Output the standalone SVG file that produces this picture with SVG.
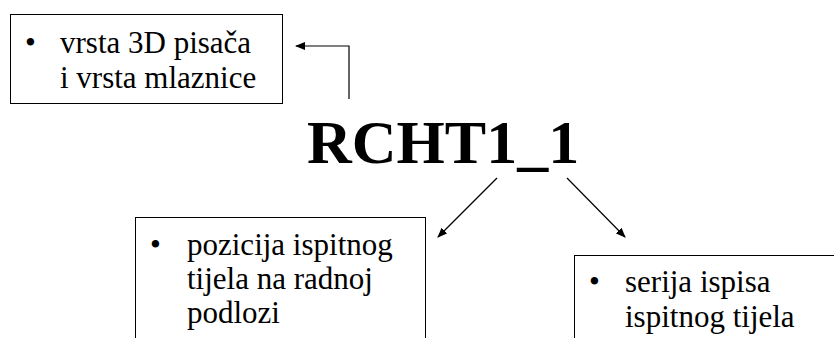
<svg xmlns="http://www.w3.org/2000/svg" width="834" height="338" viewBox="0 0 834 338">
<defs>
<marker id="ah" markerWidth="10" markerHeight="8" refX="9" refY="4" orient="auto" markerUnits="userSpaceOnUse">
<path d="M0,0 L10,4 L0,8 z" fill="#000"/>
</marker>
<style>
.box{fill:#fff;stroke:#000;stroke-width:1}
.t{font-family:"Liberation Serif","Times New Roman",serif;font-size:31px;fill:#000}
.title{font-family:"Liberation Serif","Times New Roman",serif;font-size:62px;font-weight:bold;fill:#000}
.c{fill:none;stroke:#000;stroke-width:1.2}
</style>
</defs>
<rect width="834" height="338" fill="#fff"/>
<g id="box1">
<rect class="box" x="10.5" y="14.5" width="272" height="89"/>
<text class="t" x="25" y="53">•</text>
<text class="t" x="60" y="53">vrsta 3D pisača</text>
<text class="t" x="60" y="88">i vrsta mlaznice</text>
</g>
<g id="title">
<text class="title" x="307" y="163">RCHT1_1</text>
</g>
<g id="box2">
<rect class="box" x="135.5" y="217.5" width="290" height="130"/>
<text class="t" x="150" y="255">•</text>
<text class="t" x="187" y="255">pozicija ispitnog</text>
<text class="t" x="187" y="289">tijela na radnoj</text>
<text class="t" x="187" y="323">podlozi</text>
</g>
<g id="box3">
<rect class="box" x="574.5" y="255.5" width="280" height="100"/>
<text class="t" x="589" y="292">•</text>
<text class="t" x="625" y="292">serija ispisa</text>
<text class="t" x="625" y="327">ispitnog tijela</text>
</g>
<g id="connectors">
<path class="c" d="M349,99 V46 H296" marker-end="url(#ah)"/>
<path class="c" d="M497,178 L438,237" marker-end="url(#ah)"/>
<path class="c" d="M567,178 L625,237" marker-end="url(#ah)"/>
</g>
</svg>
